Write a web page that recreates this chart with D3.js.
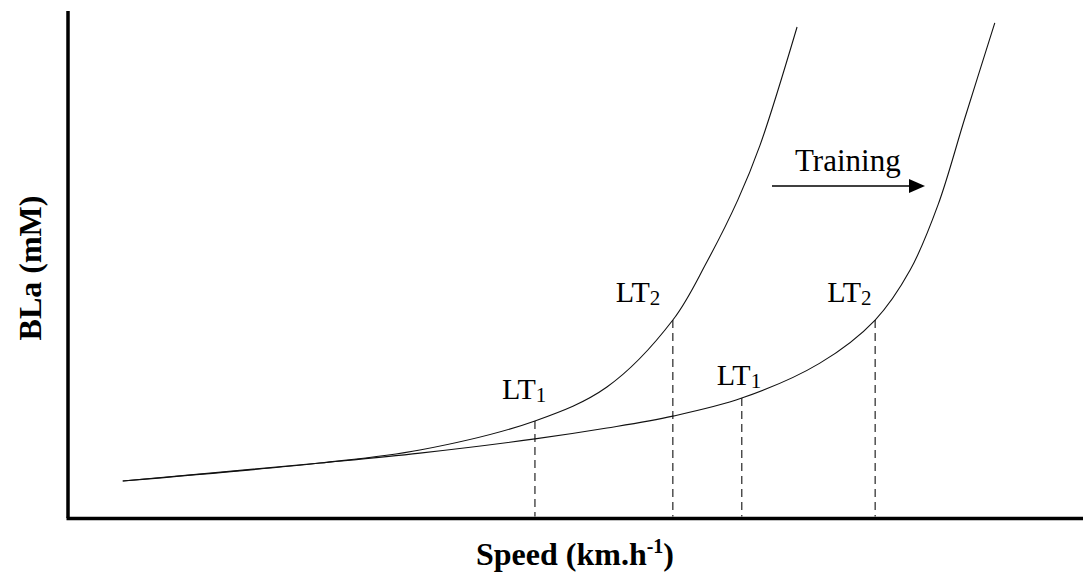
<!DOCTYPE html>
<html>
<head>
<meta charset="utf-8">
<script src="https://cdn.jsdelivr.net/npm/d3@7"></script>
<style>
  html, body { margin: 0; padding: 0; background: #fff; }
  svg { display: block; }
  text { font-family: "Liberation Serif", "Times New Roman", serif; fill: #000; }
</style>
</head>
<body>
<svg id="chart" width="1085" height="573"></svg>
<script>
// ---- Data (arbitrary units) ----
const preSpeed  = [7.08, 10.97, 12.94, 15.21, 16.63, 17.93, 18.60, 19.21, 19.65, 20.38];
const preBLa    = [1.46, 2.17, 2.68, 3.83, 5.17, 7.81, 10.10, 12.54, 14.71, 19.37];
const postSpeed = [7.08, 10.97, 12.94, 15.21, 16.63, 17.93, 19.29, 20.83, 21.92, 22.61, 23.16, 23.69, 24.28];
const postBLa   = [1.46, 2.17, 2.56, 3.12, 3.55, 4.02, 4.73, 6.11, 7.81, 9.78, 12.35, 15.78, 19.53];

const thresholdNames = ["LT", "LT", "LT", "LT"];
const thresholdSubs  = ["1", "2", "1", "2"];
const thresholdSpeed = [15.21, 17.93, 19.29, 21.92];
const thresholdBLa   = [3.83, 7.81, 4.73, 7.81];

const xTitle = "Speed (km.h";
const xTitleSup = "-1";
const yTitle = "BLa (mM)";
const arrowLabel = "Training";

// ---- Layout ----
const svg = d3.select("#chart");
const pLeft = 68, pRight = 1082, pTop = 11, pBottom = 518;
const x = d3.scaleLinear().domain([6, 26]).range([pLeft, pRight]);
const y = d3.scaleLinear().domain([0, 20]).range([pBottom, pTop]);

// Axes (no ticks)
const xAxis = d3.axisBottom(x).tickValues([]).tickSizeOuter(0);
const yAxis = d3.axisLeft(y).tickValues([]).tickSizeOuter(0);
const gx = svg.append("g").attr("transform", `translate(0,${pBottom})`).call(xAxis);
const gy = svg.append("g").attr("transform", `translate(${pLeft},0)`).call(yAxis);
gx.select(".domain").attr("stroke", "#000").attr("stroke-width", 3.5)
  .attr("d", `M${pLeft - 1.5},0.5H1083`);
gy.select(".domain").attr("stroke", "#000").attr("stroke-width", 3.5)
  .attr("d", `M0,${pTop}V${pBottom}`);

// Curves
const line = d3.line().x(d => x(d[0])).y(d => y(d[1])).curve(d3.curveCatmullRom.alpha(0.5));
const preData = preSpeed.map((s, i) => [s, preBLa[i]]);
const postData = postSpeed.map((s, i) => [s, postBLa[i]]);
[preData, postData].forEach(data => {
  svg.append("path").datum(data)
    .attr("d", line)
    .attr("fill", "none")
    .attr("stroke", "#111")
    .attr("stroke-width", 1.1);
});

// Threshold dashed drop lines
thresholdSpeed.forEach((s, i) => {
  svg.append("line")
    .attr("x1", x(s)).attr("x2", x(s))
    .attr("y1", y(thresholdBLa[i])).attr("y2", pBottom - 1.5)
    .attr("stroke", "#111").attr("stroke-width", 1.1)
    .attr("stroke-dasharray", "8,5");
});

// Threshold labels (pixel offsets from each threshold point)
const labelOffsets = [[-33, -22], [-57, -18], [-25, -13], [-48, -18]];
thresholdSpeed.forEach((s, i) => {
  const t = svg.append("text")
    .attr("x", x(s) + labelOffsets[i][0])
    .attr("y", y(thresholdBLa[i]) + labelOffsets[i][1])
    .attr("font-size", 30);
  t.append("tspan").text(thresholdNames[i]);
  t.append("tspan").attr("font-size", 21).attr("dy", 3).text(thresholdSubs[i]);
});

// Training arrow
const ax0 = 772, ax1 = 925, ay = 186;
svg.append("line").attr("x1", ax0).attr("x2", ax1 - 14).attr("y1", ay).attr("y2", ay)
  .attr("stroke", "#000").attr("stroke-width", 1.5);
svg.append("path")
  .attr("d", `M${ax1},${ay}L${ax1 - 16},${ay - 7}L${ax1 - 16},${ay + 7}Z`)
  .attr("fill", "#000");
svg.append("text").attr("x", 795).attr("y", 171).attr("font-size", 31).text(arrowLabel);

// Axis titles
const xt = svg.append("text")
  .attr("x", 575).attr("y", 565)
  .attr("text-anchor", "middle")
  .attr("font-size", 32).attr("font-weight", "bold");
xt.append("tspan").text(xTitle);
xt.append("tspan").attr("font-size", 20).attr("dy", -12).text(xTitleSup);
xt.append("tspan").attr("dy", 12).text(")");

svg.append("text")
  .attr("transform", "translate(41,268) rotate(-90)")
  .attr("text-anchor", "middle")
  .attr("font-size", 32).attr("font-weight", "bold")
  .text(yTitle);
</script>
</body>
</html>
